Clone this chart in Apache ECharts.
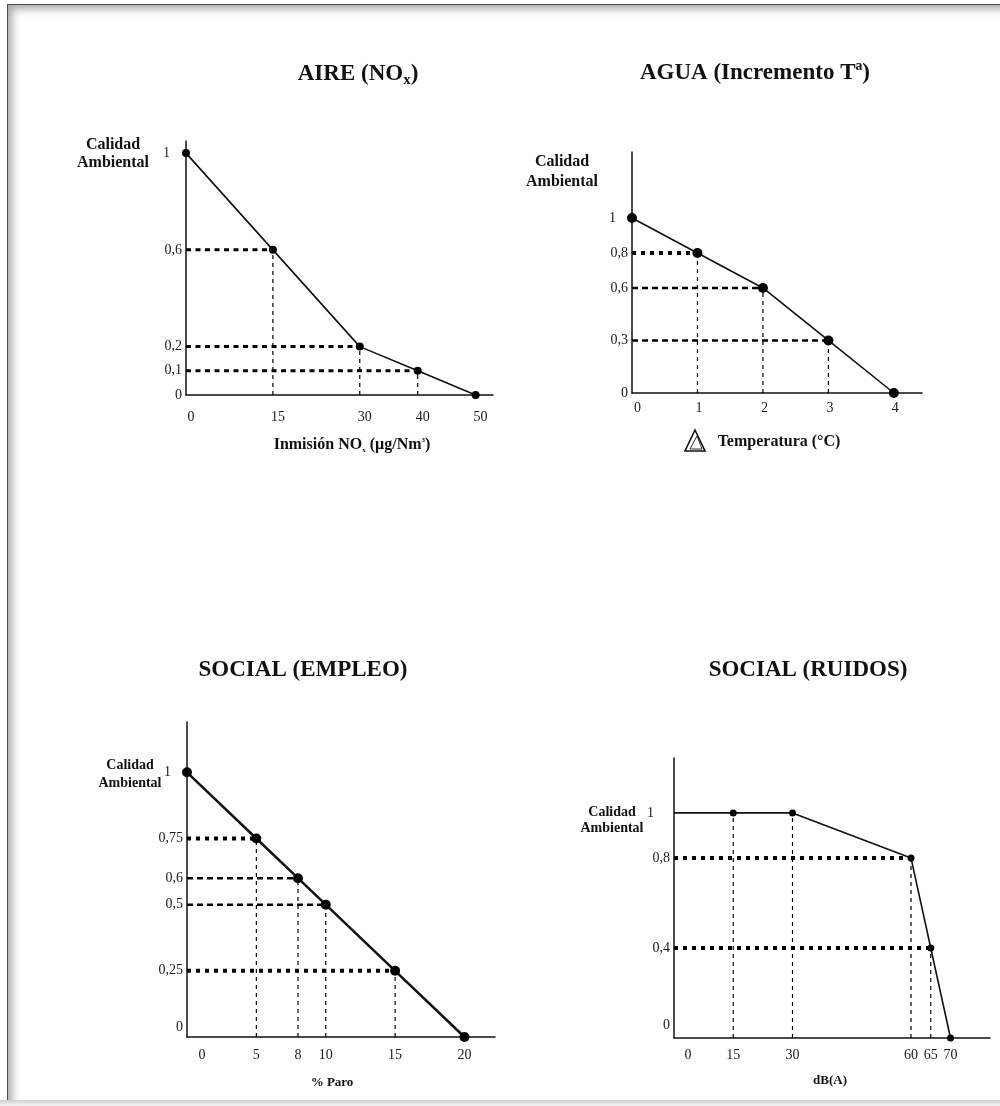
<!DOCTYPE html>
<html><head><meta charset="utf-8">
<script src="https://cdn.jsdelivr.net/npm/echarts@6/dist/echarts.min.js"></script>
<style>
html,body{margin:0;padding:0;background:#fff;overflow:hidden;}
#page{position:absolute;left:7px;top:4px;width:993px;height:1096px;border-top:1px solid #4a4a4a;border-left:1px solid #4a4a4a;box-shadow:inset 7px 7px 9px -3px rgba(0,0,0,0.35);background:#fff;}
#foot{position:absolute;left:0;top:1100px;width:1000px;height:6px;background:linear-gradient(#d0d0d0,#f4f4f4);}
#chart{position:absolute;left:0;top:0;width:1000px;height:1106px;}
</style></head><body>
<div id="page"></div><div id="foot"></div><div id="chart"></div>
<script>
// ---- data ----
const aireX = [0, 15, 30, 40, 50];
const aireY = [1, 0.6, 0.2, 0.1, 0];
const aireXTicks = [0, 15, 30, 40, 50];
const aireYTicks = [0, 0.1, 0.2, 0.6, 1];

const aguaX = [0, 1, 2, 3, 4];
const aguaY = [1, 0.8, 0.6, 0.3, 0];
const aguaXTicks = [0, 1, 2, 3, 4];
const aguaYTicks = [0, 0.3, 0.6, 0.8, 1];

const empleoX = [0, 5, 8, 10, 15, 20];
const empleoY = [1, 0.75, 0.6, 0.5, 0.25, 0];
const empleoXTicks = [0, 5, 8, 10, 15, 20];
const empleoYTicks = [0, 0.25, 0.5, 0.6, 0.75, 1];

const ruidosX = [0, 15, 30, 60, 65, 70];
const ruidosY = [1, 1, 1, 0.8, 0.4, 0];
const ruidosXTicks = [0, 15, 30, 60, 65, 70];
const ruidosYTicks = [0, 0.4, 0.8, 1];

const titles = ['AIRE (NO{sub|x})', 'AGUA (Incremento Tª)', 'SOCIAL (EMPLEO)', 'SOCIAL (RUIDOS)'];
const yName = 'Calidad\nAmbiental';

// ---- styles ----
const SERIF = '"Liberation Serif", "DejaVu Serif", serif';
const DASH = {width: 3, type: [5, 4.5]};
const DASH2 = {width: 2.5, type: [6, 4]};
const DOT = {width: 4, type: [4, 5]};
const VDASH = {width: 1.2, type: [4, 4]};

const panels = [
  {xs: aireX, ys: aireY, xt: aireXTicks, yt: aireYTicks,
   grid: {left: 186, top: 141, width: 307, height: 254}, xMax: 53, yMax: 1.05,
   lw: 1.6, sym: 8, h: [[1, DASH], [2, DASH], [3, DASH]], v: [1, 2, 3], noSym: [],
   xPad: 10, x0: 0, y0: 0, y1: 12, xMargin: 15, fs: 14},
  {xs: aguaX, ys: aguaY, xt: aguaXTicks, yt: aguaYTicks,
   grid: {left: 632, top: 152, width: 290, height: 241}, xMax: 4.43, yMax: 1.377,
   lw: 1.6, sym: 10, h: [[1, DOT], [2, DASH2], [3, DASH2]], v: [1, 2, 3], noSym: [],
   xPad: 3, x0: 8, y0: 0, y1: 12, xMargin: 8, fs: 14},
  {xs: empleoX, ys: empleoY, xt: empleoXTicks, yt: empleoYTicks,
   grid: {left: 187, top: 722, width: 308, height: 315}, xMax: 22.2, yMax: 1.19,
   lw: 2.5, sym: 10, h: [[1, DOT], [2, DASH2], [3, DASH2], [4, DOT]], v: [1, 2, 3, 4], noSym: [],
   xPad: 0, x0: 30, y0: 20, y1: 12, xMargin: 11, fs: 14},
  {xs: ruidosX, ys: ruidosY, xt: ruidosXTicks, yt: ruidosYTicks,
   grid: {left: 674, top: 758, width: 316, height: 280}, xMax: 80, yMax: 1.244,
   lw: 1.6, sym: 7, h: [[3, DOT], [4, DOT]], v: [1, 2, 3, 4], noSym: [0],
   xPad: 0, x0: 28, y0: 26, y1: 16, xMargin: 10, fs: 14}
];

const fmt = v => String(v).replace('.', ',');
const grids = [], xAxes = [], yAxes = [], series = [];

panels.forEach((p, k) => {
  grids.push(Object.assign({outerBoundsMode: 'none', containLabel: false}, p.grid));
  const lab = {fontFamily: SERIF, fontSize: p.fs, color: '#1a1a1a'};
  xAxes.push({
    gridIndex: k, type: 'value', min: 0, max: p.xMax,
    axisLine: {show: true, onZero: false, lineStyle: {color: '#111', width: 1.5}},
    axisTick: {show: false}, splitLine: {show: false},
    axisLabel: Object.assign({}, lab, {
      customValues: p.xt, margin: p.xMargin, padding: [0, 0, 0, p.xPad],
      formatter: v => v === 0 ? '{z|0}' : fmt(v),
      rich: {z: Object.assign({}, lab, {padding: [0, 0, 0, p.x0]})}
    })
  });
  yAxes.push({
    gridIndex: k, type: 'value', min: 0, max: p.yMax,
    axisLine: {show: true, onZero: false, lineStyle: {color: '#111', width: 1.5}},
    axisTick: {show: false}, splitLine: {show: false},
    axisLabel: Object.assign({}, lab, {
      customValues: p.yt, margin: 4,
      formatter: v => v === 0 ? '{z|0}' : (v === 1 ? '{o|1}' : fmt(v)),
      rich: {
        z: Object.assign({}, lab, {padding: [0, 0, p.y0, 0]}),
        o: Object.assign({}, lab, {padding: [0, p.y1, 0, 0]})
      }
    })
  });
  // guide lines
  p.h.forEach(([i, st]) => {
    series.push({type: 'line', xAxisIndex: k, yAxisIndex: k, silent: true, animation: false,
      symbol: 'none', z: 2, data: [[0, p.ys[i]], [p.xs[i], p.ys[i]]],
      lineStyle: {color: '#000', width: st.width, type: st.type, cap: 'butt'}});
  });
  p.v.forEach(i => {
    series.push({type: 'line', xAxisIndex: k, yAxisIndex: k, silent: true, animation: false,
      symbol: 'none', z: 2, data: [[p.xs[i], 0], [p.xs[i], p.ys[i]]],
      lineStyle: {color: '#000', width: VDASH.width, type: VDASH.type}});
  });
  // main curve
  series.push({type: 'line', xAxisIndex: k, yAxisIndex: k, animation: false, z: 5,
    symbol: 'circle', symbolSize: p.sym,
    data: p.xs.map((x, i) => p.noSym.includes(i) ? {value: [x, p.ys[i]], symbol: 'none'} : [x, p.ys[i]]),
    lineStyle: {color: '#111', width: p.lw}, itemStyle: {color: '#000'}});
});

function txt(text, x, y, size, extra) {
  return {type: 'text', x: x, y: y, silent: true, z: 10,
    style: Object.assign({text: text, fill: '#111', font: 'bold ' + size + 'px ' + SERIF,
      align: 'center', verticalAlign: 'middle'}, extra || {})};
}
const subRich = {sub: {fontFamily: SERIF, fontWeight: 'bold', fontSize: 15, padding: [12, 0, 0, 0], fill: '#111'}};

const graphic = [
  txt(titles[0], 358, 74, 23, {rich: subRich}),
  txt(titles[1], 755, 73, 23),
  txt(titles[2], 303, 670, 23),
  txt(titles[3], 808, 670, 23),
  txt(yName, 113, 154, 16, {lineHeight: 18}),
  txt(yName, 562, 172, 16, {lineHeight: 20}),
  txt(yName, 130, 774, 14, {lineHeight: 18}),
  txt(yName, 612, 820, 14, {lineHeight: 16}),
  txt('Inmisión NO{s|x} (µg/Nm{p|3})', 352, 445, 16, {rich: {
    s: {fontFamily: SERIF, fontWeight: 'bold', fontSize: 7, padding: [10, 0, 0, 0], fill: '#111'},
    p: {fontFamily: SERIF, fontWeight: 'bold', fontSize: 7, padding: [0, 0, 10, 0], fill: '#111'}}}),
  // delta symbol (decorative double-outline triangle)
  {type: 'polygon', silent: true, z: 10, shape: {points: [[695, 430], [685, 451], [705, 451]]},
   style: {fill: 'none', stroke: '#111', lineWidth: 1.6, lineJoin: 'miter'}},
  {type: 'polygon', silent: true, z: 10, shape: {points: [[697, 436], [690, 449], [702, 449]]},
   style: {fill: 'none', stroke: '#333', lineWidth: 1}},
  txt('Temperatura (°C)', 779, 442, 16),
  txt('% Paro', 332, 1083, 13),
  txt('dB(A)', 830, 1081, 13)
];

const chart = echarts.init(document.getElementById('chart'), null, {renderer: 'canvas'});
chart.setOption({
  animation: false,
  backgroundColor: 'transparent',
  grid: grids, xAxis: xAxes, yAxis: yAxes, series: series, graphic: graphic
});
</script>
</body></html>
